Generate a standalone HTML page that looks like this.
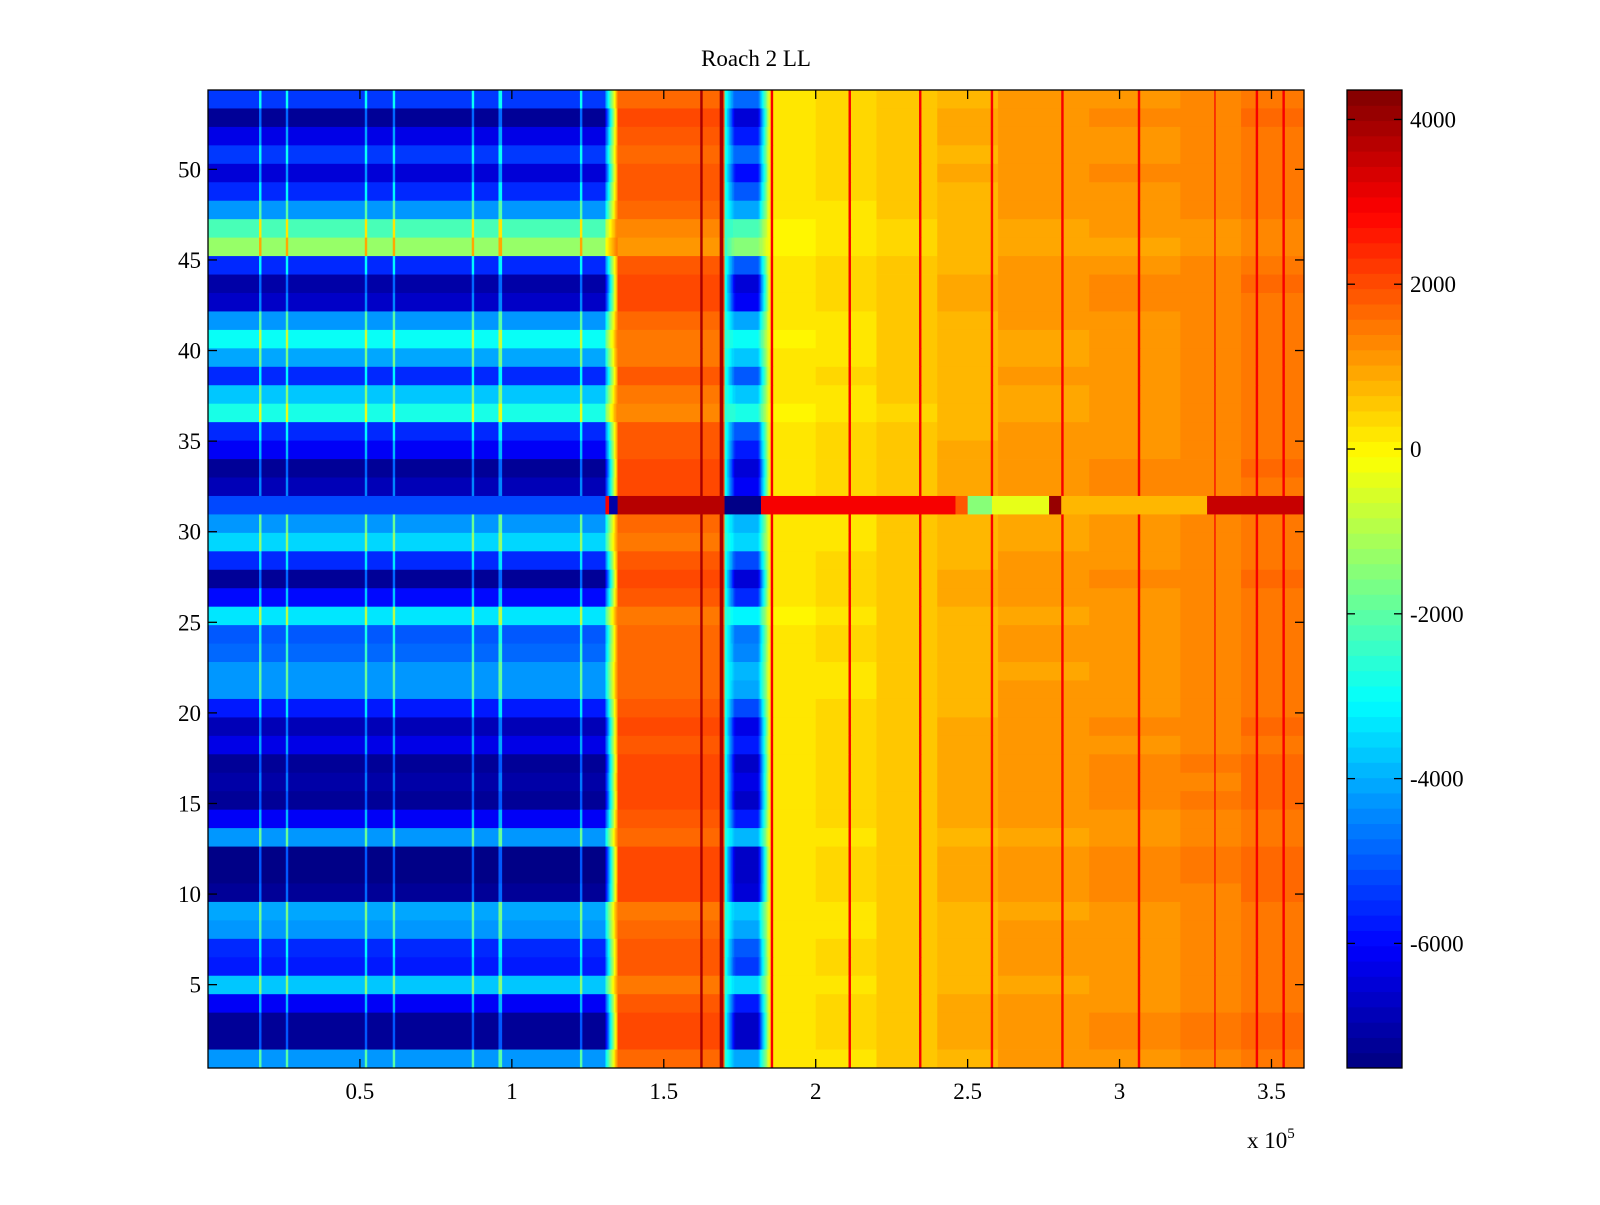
<!DOCTYPE html>
<html>
<head>
<meta charset="utf-8">
<style>
  html,body{margin:0;padding:0;background:#fff;}
  body{width:1600px;height:1200px;overflow:hidden;}
  svg text{font-family:"Liberation Serif","DejaVu Serif",serif;fill:#000;}
</style>
</head>
<body>
<svg id="chart" width="1600" height="1200" viewBox="0 0 1600 1200" xmlns="http://www.w3.org/2000/svg">
  <rect x="0" y="0" width="1600" height="1200" fill="#fff"/>
  <text x="756" y="66" font-size="23" text-anchor="middle">Roach 2 LL</text>
  <g id="cells"></g>
  <g id="cbar"></g>
  <g id="axes"></g>
</svg>
<script>
// ---------- data ----------
const xTicks = [0.5, 1, 1.5, 2, 2.5, 3, 3.5];
const xTickLabels = ["0.5", "1", "1.5", "2", "2.5", "3", "3.5"];
const yTicks = [5, 10, 15, 20, 25, 30, 35, 40, 45, 50];
const yTickLabels = ["5", "10", "15", "20", "25", "30", "35", "40", "45", "50"];
const cTicks = [-6000, -4000, -2000, 0, 2000, 4000];
const cTickLabels = ["-6000", "-4000", "-2000", "0", "2000", "4000"];
// row values in the left (low-x) region, listed top row to bottom row
const leftRow = [-5300,-7200,-6300,-5300,-6500,-5500,-4300,-2200,-1300,-5500,
                 -7100,-6700,-4300,-3000,-4000,-5500,-3800,-2700,-5500,-6200,
                 -7200,-6800,-5500,-4200,-3600,-5600,-7200,-6000,-3300,-5000,
                 -4800,-4200,-4300,-5700,-6900,-6300,-7300,-7000,-7300,-6200,
                 -4200,-7400,-7400,-7200,-4000,-4300,-5500,-5800,-3700,-6200,
                 -7300,-7300,-4300];
const leftLineX = [0.172, 0.261, 0.521, 0.613, 0.873, 0.962, 1.227];
const darkLineX = [1.624, 1.690];
const redLineX = [1.857, 2.112, 2.345, 2.579, 2.812, 3.064, 3.314, 3.452, 3.54];
// right-region profile (x in 1e5 units)
const profStart = [1.85, 2.0, 2.2, 2.4, 2.6, 2.9, 3.2, 3.4];
const profVal   = [150, 300, 550, 800, 1050, 1150, 1300, 1500];
// anomalous strip row (index from top)
const stripRow = 22;
const stripStart = [0, 1.31, 1.32, 1.35, 1.70, 1.82, 2.46, 2.50, 2.58, 2.77, 2.81, 3.29];
const stripVal   = [-5200, 3000, -7000, 3700, -7400, 2900, 1900, -1500, -400, 4100, 700, 3500];

// ---------- scales ----------
const L = 208, R = 1304, T = 90, B = 1068;
const XMAX = 3.607, YMIN = 0.4, YMAX = 54.38;
const CMIN = -7512, CMAX = 4357;
const nRows = leftRow.length;
function xs(x){ return L + x / XMAX * (R - L); }
function ys(y){ return B - (y - YMIN) / (YMAX - YMIN) * (B - T); }
function cs(v){ return B - (v - CMIN) / (CMAX - CMIN) * (B - T); }

function jet(i){ // i in 0..63
  const t = (i + 0.5) / 64;
  const c = a => Math.round(255 * Math.max(0, Math.min(1, a)));
  return "rgb(" + c(1.5 - Math.abs(4*t - 3)) + "," + c(1.5 - Math.abs(4*t - 2)) + "," + c(1.5 - Math.abs(4*t - 1)) + ")";
}
function cidx(v){
  let i = Math.floor((v - CMIN) / (CMAX - CMIN) * 64);
  return Math.max(0, Math.min(63, i));
}
function near(arr, x, w){ for (const a of arr) if (Math.abs(x - a) < w) return true; return false; }
function lookup(starts, vals, x){ let v = vals[0]; for (let k = 0; k < starts.length; k++) if (x >= starts[k]) v = vals[k]; return v; }
function lerp(a, b, f){ return a + (b - a) * f; }

function value(t, x){
  const lr = leftRow[t];
  if (t === stripRow) return lookup(stripStart, stripVal, x);
  if (x < 1.31){
    let v = lr;
    if (near(leftLineX, x, 0.005)) v = Math.min(v + 2300, 1200);
    return v;
  }
  if (x < 1.35) return lerp(lr + 1200, 1600, (x - 1.31) / 0.04);
  if (x < 1.70){
    if (near(darkLineX, x, 0.005)) return 3900;
    return 1700 - (lr + 5000) * 0.15;
  }
  const blue = lr * 0.85 - 400;
  if (x < 1.735) return lerp(-2500, blue, (x - 1.70) / 0.035);
  if (x < 1.81) return blue;
  if (x < 1.85) return lerp(blue, 0, (x - 1.81) / 0.04);
  if (near(redLineX, x, 0.004)) return 2900;
  return lookup(profStart, profVal, x) - (lr + 5000) * 0.04;
}

// ---------- heatmap ----------
const NS = "http://www.w3.org/2000/svg";
const cells = document.getElementById("cells");
const binW = 0.004;
const nBins = Math.ceil(XMAX / binW);
for (let t = 0; t < nRows; t++){
  const y0 = T + t * (B - T) / nRows, y1 = T + (t + 1) * (B - T) / nRows;
  let runStart = 0, runIdx = cidx(value(t, binW / 2));
  for (let b = 1; b <= nBins; b++){
    const idx = b < nBins ? cidx(value(t, (b + 0.5) * binW)) : -1;
    if (idx !== runIdx){
      const r = document.createElementNS(NS, "rect");
      const xa = xs(runStart * binW), xb = Math.min(R, xs(b * binW));
      r.setAttribute("x", xa.toFixed(2));
      r.setAttribute("y", y0.toFixed(2));
      r.setAttribute("width", (xb - xa + 0.4).toFixed(2));
      r.setAttribute("height", (y1 - y0 + 0.4).toFixed(2));
      r.setAttribute("fill", jet(runIdx));
      
      
      cells.appendChild(r);
      runStart = b; runIdx = idx;
    }
  }
}
const cover = document.createElementNS(NS, "rect");
cover.setAttribute("x", R); cover.setAttribute("y", T - 2); cover.setAttribute("width", 40); cover.setAttribute("height", B - T + 4); cover.setAttribute("fill", "#fff");


cells.appendChild(cover);

// ---------- axes ----------
const axes = document.getElementById("axes");
function line(x1, y1, x2, y2, name){
  const l = document.createElementNS(NS, "line");
  l.setAttribute("x1", x1); l.setAttribute("y1", y1); l.setAttribute("x2", x2); l.setAttribute("y2", y2);
  l.setAttribute("stroke", "#000"); l.setAttribute("stroke-width", "1.3");
  
  
  axes.appendChild(l);
}
function text(x, y, s, anchor, size, name){
  const tx = document.createElementNS(NS, "text");
  tx.setAttribute("x", x); tx.setAttribute("y", y); tx.setAttribute("text-anchor", anchor); tx.setAttribute("font-size", size);
  tx.textContent = s;
  
  
  axes.appendChild(tx);
  return tx;
}
const fr = document.createElementNS(NS, "rect");
fr.setAttribute("x", L); fr.setAttribute("y", T); fr.setAttribute("width", R - L); fr.setAttribute("height", B - T);
fr.setAttribute("fill", "none"); fr.setAttribute("stroke", "#000"); fr.setAttribute("stroke-width", "1.3");


axes.appendChild(fr);
xTicks.forEach((v, i) => {
  const x = xs(v);
  line(x, B, x, B - 9, "x-tick");
  line(x, T, x, T + 9, "x-tick-top");
  text(x, B + 31, xTickLabels[i], "middle", 23, "x-tick-label");
});
yTicks.forEach((v, i) => {
  const y = ys(v);
  line(L, y, L + 9, y, "y-tick");
  line(R, y, R - 9, y, "y-tick-right");
  text(L - 7, y + 8, yTickLabels[i], "end", 23, "y-tick-label");
});
const xm = text(1247, 1148, "x 10", "start", 23, "x-axis-multiplier");
const sup = document.createElementNS(NS, "tspan");
sup.setAttribute("dy", "-10"); sup.setAttribute("font-size", "15");
sup.textContent = "5";
xm.appendChild(sup);

// ---------- colorbar ----------
const cbar = document.getElementById("cbar");
const CL = 1347, CR = 1402;
for (let i = 0; i < 64; i++){
  const v0 = CMIN + i * (CMAX - CMIN) / 64, v1 = CMIN + (i + 1) * (CMAX - CMIN) / 64;
  const r = document.createElementNS(NS, "rect");
  r.setAttribute("x", CL); r.setAttribute("y", cs(v1).toFixed(2));
  r.setAttribute("width", CR - CL); r.setAttribute("height", (cs(v0) - cs(v1) + 0.5).toFixed(2));
  r.setAttribute("fill", jet(i));
  
  
  cbar.appendChild(r);
}
const cf = document.createElementNS(NS, "rect");
cf.setAttribute("x", CL); cf.setAttribute("y", T); cf.setAttribute("width", CR - CL); cf.setAttribute("height", B - T);
cf.setAttribute("fill", "none"); cf.setAttribute("stroke", "#000"); cf.setAttribute("stroke-width", "1.3");


cbar.appendChild(cf);
cTicks.forEach((v, i) => {
  const y = cs(v);
  line(CL, y, CL + 8, y, "colorbar-tick");
  line(CR, y, CR - 8, y, "colorbar-tick-right");
  text(CR + 8, y + 8, cTickLabels[i], "start", 23, "colorbar-tick-label");
});
</script>
</body>
</html>
